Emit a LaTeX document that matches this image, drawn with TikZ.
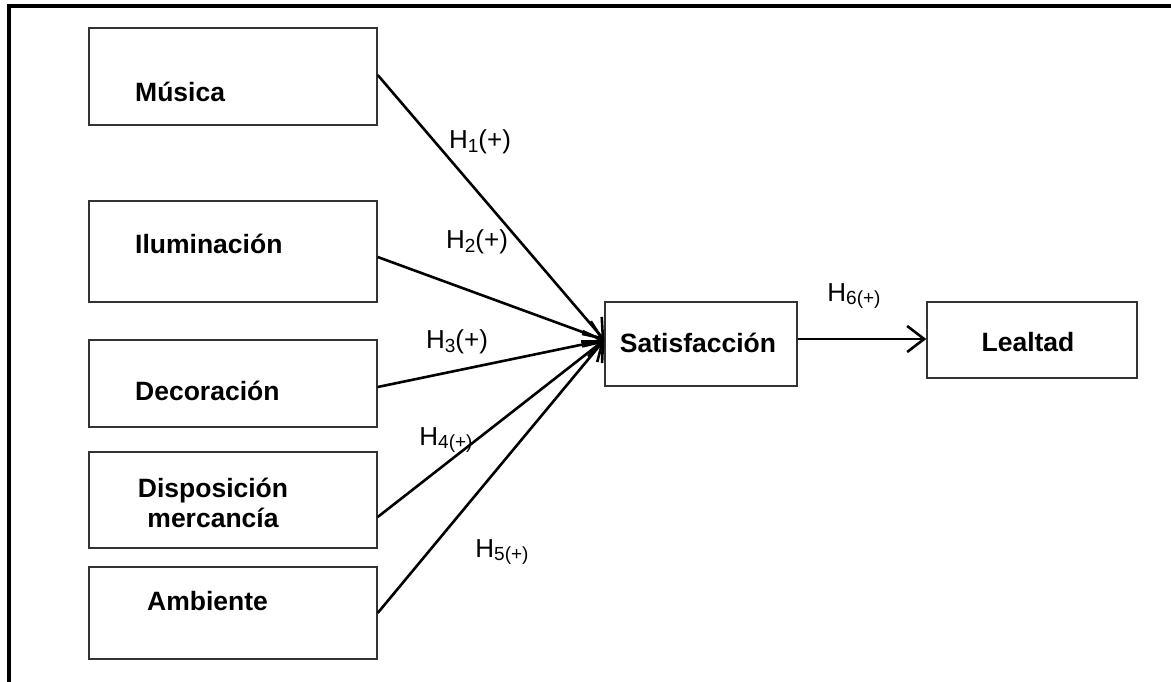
\documentclass[tikz,border=0pt]{standalone}
\usepackage{fontspec}
\setmainfont{Liberation Sans}
\usetikzlibrary{arrows.meta}
\newcommand\hsmall[1]{\raisebox{-0.14em}{\fontsize{19}{19}\selectfont #1}}
\begin{document}
\begin{tikzpicture}[x=1pt,y=-1pt,
  box/.style={draw=black!80,line width=1.4pt,inner sep=0pt,minimum width=288pt},
  lbl/.style={font=\fontsize{26.5}{30}\selectfont\bfseries,inner sep=0pt},
  hyp/.style={font=\fontsize{26}{28}\selectfont,inner sep=0pt},
  arr/.style={line width=2.6pt,-{Straight Barb[length=17pt,width=26pt,line width=2.6pt]}}]
\useasboundingbox (0,0) rectangle (1171,682);
\draw[line width=3.4pt] (9,682) -- (9,6) -- (1171,6);
% boxes
\node[box,minimum height=97pt] (mus) at (233,76.5) {};
\node[box,minimum height=101pt] (ilu) at (233,251.5) {};
\node[box,minimum height=87pt] (dec) at (233,383.5) {};
\node[box,minimum height=96pt] (dis) at (233,500) {};
\node[box,minimum height=92pt] (amb) at (233,613) {};
\node[box,minimum width=192pt,minimum height=84pt] (sat) at (701,344) {};
\node[box,minimum width=210pt,minimum height=76pt] (lea) at (1032,340) {};
% box texts
\node[lbl,anchor=west] (tmus) at (135,92) {Música};
\node[lbl,anchor=west] (tilu) at (135,244) {Iluminación};
\node[lbl,anchor=west] (tdec) at (135,391) {Decoración};
\node[lbl,align=center] (tdis) at (213,503) {Disposición\\mercancía};
\node[lbl] (tamb) at (207.5,601) {Ambiente};
\node[lbl] (tsat) at (698,343) {Satisfacción};
\node[lbl] (tlea) at (1028,342) {Lealtad};
% connectors
\coordinate (in) at ([yshift=4pt]sat.west);
\draw[arr] ([yshift=1.5pt]mus.east) -- (in);
\draw[arr] ([yshift=-5.5pt]ilu.east) -- (in);
\draw[arr] ([yshift=-3.5pt]dec.east) -- (in);
\draw[arr] ([yshift=-17pt]dis.east) -- (in);
\draw[arr] (amb.east) -- (in);
\draw[arr] ([yshift=5pt]sat.east) -- ([yshift=1pt]lea.west);
% hypothesis labels
\node[hyp] (h1) at (480,142) {H\hsmall{1}(+)};
\node[hyp] (h2) at (477,242) {H\hsmall{2}(+)};
\node[hyp] (h3) at (457,342) {H\hsmall{3}(+)};
\node[hyp] (h4) at (446,440) {H\hsmall{4(+)}};
\node[hyp] (h5) at (502,552) {H\hsmall{5(+)}};
\node[hyp] (h6) at (854,296) {H\hsmall{6(+)}};
\end{tikzpicture}
\end{document}
